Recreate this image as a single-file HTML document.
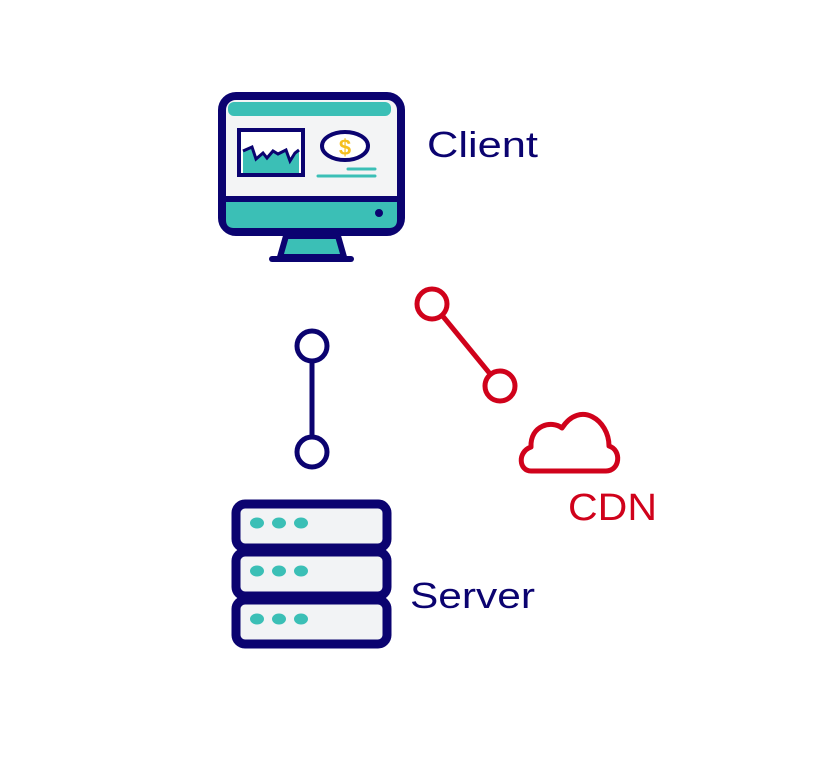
<!DOCTYPE html>
<html><head><style>
html,body{margin:0;padding:0;background:#fff}
svg{display:block}
text{font-family:"Liberation Sans",sans-serif}
</style></head><body>
<svg width="820" height="758" viewBox="0 0 820 758" xmlns="http://www.w3.org/2000/svg">
<!-- Monitor -->
<rect x="222" y="96" width="179" height="136" rx="14" fill="#f3f4f5" stroke="#0b0370" stroke-width="8"/>
<rect x="228" y="102" width="163" height="14" rx="6" fill="#3bbfb6"/>
<path d="M226,199 H397 V220 Q397,228 389,228 H234 Q226,228 226,220 Z" fill="#3bbfb6"/>
<line x1="222" y1="199" x2="401" y2="199" stroke="#0b0370" stroke-width="6"/>
<circle cx="379" cy="213" r="4" fill="#0b0370"/>
<rect x="239" y="130" width="64" height="45" fill="#fff" stroke="#0b0370" stroke-width="4"/>
<path d="M243,173 V151 L252,147 L256,159 L263,153 L267,158 L273,151 L278,154 L286,150 L290,161 L295,153 L299,150 V173 Z" fill="#3bbfb6"/>
<polyline points="243,151 252,147 256,159 263,153 267,158 273,151 278,154 286,150 290,161 295,153 299,150" fill="none" stroke="#0b0370" stroke-width="3"/>
<ellipse cx="345" cy="146" rx="23" ry="14" fill="#fff" stroke="#0b0370" stroke-width="4"/>
<text x="345" y="155" text-anchor="middle" font-size="22" font-weight="bold" fill="#f5bf1f">$</text>
<line x1="348" y1="169" x2="375" y2="169" stroke="#3bbfb6" stroke-width="3" stroke-linecap="round"/>
<line x1="318" y1="176" x2="375" y2="176" stroke="#3bbfb6" stroke-width="3" stroke-linecap="round"/>
<path d="M286,236 L338,236 L344,257 L280,257 Z" fill="#3bbfb6" stroke="#0b0370" stroke-width="6" stroke-linejoin="round"/>
<line x1="272" y1="259" x2="351" y2="259" stroke="#0b0370" stroke-width="6" stroke-linecap="round"/>
<text x="427" y="157" font-size="36" fill="#0b0370" textLength="111" lengthAdjust="spacingAndGlyphs">Client</text>
<!-- Navy connector -->
<line x1="312" y1="361" x2="312" y2="437" stroke="#0b0370" stroke-width="5"/>
<circle cx="312" cy="346" r="15" fill="#fff" stroke="#0b0370" stroke-width="5"/>
<circle cx="312" cy="452" r="15" fill="#fff" stroke="#0b0370" stroke-width="5"/>
<!-- Red connector -->
<line x1="432" y1="303" x2="500" y2="386" stroke="#d0021b" stroke-width="5"/>
<circle cx="432" cy="304" r="15" fill="#fff" stroke="#d0021b" stroke-width="5"/>
<circle cx="500" cy="386" r="15" fill="#fff" stroke="#d0021b" stroke-width="5"/>
<!-- Cloud -->
<path d="M531,471 H606 C620,471 622,450 609,446 C609,420 580,400 562,428 C552,420 530,425 531,447 C517,452 519,471 531,471 Z" fill="none" stroke="#d0021b" stroke-width="5" stroke-linejoin="round"/>
<text x="568" y="520" font-size="38" fill="#d0021b" textLength="89" lengthAdjust="spacingAndGlyphs">CDN</text>
<!-- Server -->
<rect x="236" y="504" width="151" height="44" rx="9" fill="#f2f3f5" stroke="#0b0370" stroke-width="9"/>
<rect x="236" y="552" width="151" height="44" rx="9" fill="#f2f3f5" stroke="#0b0370" stroke-width="9"/>
<rect x="236" y="600" width="151" height="44" rx="9" fill="#f2f3f5" stroke="#0b0370" stroke-width="9"/>
<g fill="#3bbfb6">
<ellipse cx="257" cy="523" rx="7" ry="5.5"/><ellipse cx="279" cy="523" rx="7" ry="5.5"/><ellipse cx="301" cy="523" rx="7" ry="5.5"/>
<ellipse cx="257" cy="571" rx="7" ry="5.5"/><ellipse cx="279" cy="571" rx="7" ry="5.5"/><ellipse cx="301" cy="571" rx="7" ry="5.5"/>
<ellipse cx="257" cy="619" rx="7" ry="5.5"/><ellipse cx="279" cy="619" rx="7" ry="5.5"/><ellipse cx="301" cy="619" rx="7" ry="5.5"/>
</g>
<text x="410" y="608" font-size="36" fill="#0b0370" textLength="125" lengthAdjust="spacingAndGlyphs">Server</text>
</svg>
</body></html>
